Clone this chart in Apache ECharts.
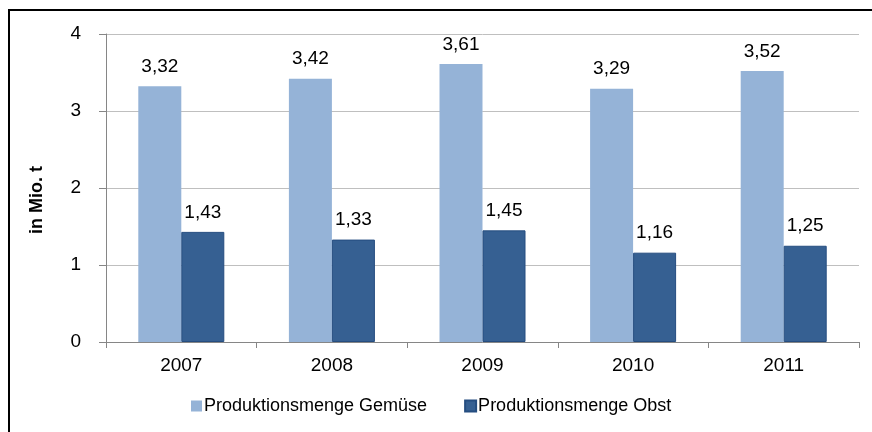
<!DOCTYPE html>
<html>
<head>
<meta charset="utf-8">
<script src="https://cdn.jsdelivr.net/npm/echarts@6/dist/echarts.min.js"></script>
<style>
  html, body { margin: 0; padding: 0; background: #fff; }
  #chart1 { width: 872px; height: 432px; }
</style>
</head>
<body>
<div id="chart1"></div>
<script>
var myChart = echarts.init(document.getElementById('chart1'));

var years = ['2007', '2008', '2009', '2010', '2011'];
var gemuese = [3.32, 3.42, 3.61, 3.29, 3.52];
var obst = [1.43, 1.33, 1.45, 1.16, 1.25];
var yTicks = [0, 1, 2, 3, 4];

var fmt = function (p) {
    return p.value.toFixed(2).replace('.', ',');
};

option = {
    animation: false,
    textStyle: { fontFamily: 'Liberation Sans, Arial, sans-serif' },
    graphic: [{
        type: 'rect',
        shape: { x: 9, y: 10, width: 900, height: 450 },
        style: { fill: 'none', stroke: '#000', lineWidth: 2 },
        z: 100
    }],
    grid: { left: 106, right: 13, top: 34, bottom: 90 },
    legend: {
        bottom: 12,
        left: 186,
        itemWidth: 11,
        itemHeight: 11,
        itemGap: 37,
        icon: 'rect',
        textStyle: { fontSize: 18, color: '#000', padding: [0, 0, 0, -3] },
        data: ['Produktionsmenge Gemüse', 'Produktionsmenge Obst']
    },
    xAxis: {
        type: 'category',
        data: years,
        axisLine: { lineStyle: { color: '#868686' } },
        axisTick: { show: true, length: 6, lineStyle: { color: '#868686' } },
        axisLabel: { fontSize: 19, color: '#000', margin: 14 }
    },
    yAxis: {
        type: 'value',
        min: yTicks[0],
        max: yTicks[yTicks.length - 1],
        interval: 1,
        name: 'in Mio. t',
        nameLocation: 'middle',
        nameGap: 60,
        nameTextStyle: { fontSize: 18, fontWeight: 'bold', color: '#000', padding: [0, 24, 0, 0] },
        axisLine: { show: true, lineStyle: { color: '#868686' } },
        axisTick: { show: true, length: 7, lineStyle: { color: '#868686' } },
        axisLabel: { fontSize: 19, color: '#000', margin: 25 },
        splitLine: { lineStyle: { color: '#bfbfbf' } }
    },
    series: [
        {
            name: 'Produktionsmenge Gemüse',
            type: 'bar',
            data: gemuese,
            barWidth: 43,
            barGap: '0%',
            itemStyle: { color: '#95b3d7' },
            label: {
                show: true, position: 'top', distance: 10,
                fontSize: 19, color: '#000', formatter: fmt
            }
        },
        {
            name: 'Produktionsmenge Obst',
            type: 'bar',
            data: obst,
            barWidth: 43,
            itemStyle: { color: '#366092', borderColor: '#254d80', borderWidth: 1 },
            label: {
                show: true, position: 'top', distance: 10,
                fontSize: 19, color: '#000', formatter: fmt
            }
        }
    ]
};
myChart.setOption(option);
</script>
</body>
</html>
